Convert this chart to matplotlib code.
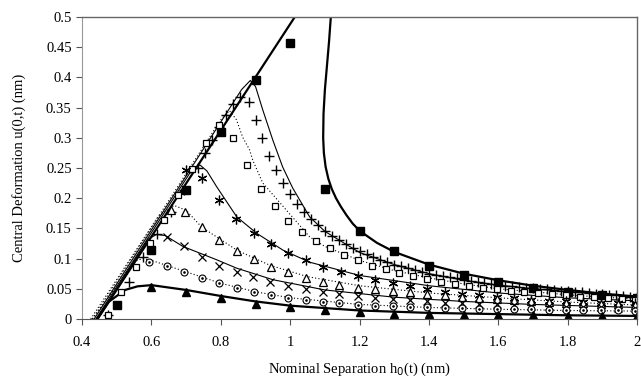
import matplotlib
matplotlib.use("Agg")
import matplotlib.pyplot as plt
from matplotlib.ticker import FuncFormatter

plt.rcParams['font.family'] = ['Liberation Serif', 'DejaVu Serif']

# filled squares + thick curve (two branches)
sq_x = [0.5, 0.6, 0.7, 0.8, 0.9, 1.0, 1.1, 1.2, 1.3, 1.4, 1.5, 1.6, 1.7, 1.8, 1.9, 2.0]
sq_y = [0.023, 0.115, 0.213, 0.31, 0.395, 0.457, 0.215, 0.146, 0.113, 0.088, 0.072,
        0.061, 0.052, 0.045, 0.04, 0.035]
thick_a_x = [0.445, 1.013]
thick_a_y = [0.0, 0.5]
thick_b_x = [1.117, 1.112, 1.106, 1.10, 1.096, 1.095, 1.097, 1.102, 1.11, 1.12, 1.132,
             1.146, 1.162, 1.18, 1.2, 1.25, 1.3, 1.4, 1.5, 1.6, 1.7, 1.8, 1.9, 2.0]
thick_b_y = [0.5, 0.46, 0.42, 0.38, 0.34, 0.30, 0.275, 0.252, 0.232, 0.215, 0.2,
             0.186, 0.172, 0.158, 0.146, 0.126, 0.111, 0.09, 0.075, 0.064, 0.055,
             0.048, 0.042, 0.037]

# '+' markers, thin solid line
plus_x = [0.475, 0.535, 0.575, 0.615, 0.655, 0.695, 0.735, 0.755, 0.775, 0.795, 0.815,
          0.835, 0.855, 0.88, 0.90, 0.92, 0.94, 0.96, 0.98, 1.00, 1.02, 1.04, 1.06, 1.08,
          1.10, 1.12, 1.14, 1.16, 1.18, 1.20, 1.22, 1.24, 1.26, 1.28, 1.30, 1.32, 1.34,
          1.36, 1.38, 1.40, 1.42, 1.44, 1.46, 1.48, 1.50, 1.52, 1.54, 1.56, 1.58, 1.60,
          1.62, 1.64, 1.66, 1.68, 1.70, 1.72, 1.74, 1.76, 1.78, 1.80, 1.82, 1.84, 1.86,
          1.88, 1.90, 1.92, 1.94, 1.96, 1.98, 2.00]
plus_y = [0.007, 0.061, 0.103, 0.14, 0.177, 0.213, 0.25, 0.275, 0.296, 0.318, 0.338,
          0.356, 0.368, 0.36, 0.33, 0.30, 0.27, 0.247, 0.225, 0.207, 0.19, 0.177, 0.165,
          0.155, 0.146, 0.138, 0.13, 0.124, 0.118, 0.112, 0.107, 0.102, 0.098, 0.094,
          0.09, 0.087, 0.084, 0.081, 0.078, 0.075, 0.073, 0.071, 0.069, 0.067, 0.065,
          0.063, 0.061, 0.06, 0.058, 0.057, 0.055, 0.054, 0.053, 0.052, 0.051, 0.05,
          0.049, 0.048, 0.047, 0.046, 0.045, 0.044, 0.043, 0.042, 0.041, 0.04, 0.039,
          0.038, 0.037, 0.036]
plus_line_x = [0.435, 0.86, 0.885, 0.90, 0.921, 0.95, 0.978, 1.007, 1.056, 1.1, 1.2, 1.3,
               1.4, 1.5, 1.6, 1.7, 1.8, 1.9, 2.0]
plus_line_y = [0.0, 0.38, 0.395, 0.385, 0.346, 0.296, 0.252, 0.217, 0.169, 0.145, 0.11,
               0.09, 0.075, 0.064, 0.056, 0.05, 0.045, 0.041, 0.037]

# open squares, dotted line
osq_x = [0.475, 0.512, 0.555, 0.596, 0.636, 0.676, 0.717, 0.757, 0.794, 0.835, 0.875,
         0.915, 0.955, 0.995, 1.035, 1.075, 1.115, 1.155, 1.195, 1.235, 1.275, 1.315,
         1.355, 1.395, 1.435, 1.475, 1.515, 1.555, 1.595, 1.635, 1.675, 1.715, 1.755,
         1.795, 1.835, 1.875, 1.915, 1.955, 1.995]
osq_y = [0.007, 0.045, 0.086, 0.125, 0.164, 0.205, 0.248, 0.291, 0.321, 0.30, 0.255,
         0.215, 0.187, 0.162, 0.144, 0.129, 0.117, 0.106, 0.097, 0.088, 0.082, 0.076,
         0.071, 0.066, 0.062, 0.058, 0.055, 0.052, 0.049, 0.047, 0.045, 0.043, 0.041,
         0.039, 0.037, 0.036, 0.034, 0.033, 0.032]
osq_line_x = [0.43, 0.80, 0.825, 0.845, 0.863, 0.883, 0.892, 0.921, 1.056, 1.1, 1.2, 1.3,
              1.4, 1.5, 1.6, 1.7, 1.8, 1.9, 2.0]
osq_line_y = [0.0, 0.33, 0.345, 0.33, 0.301, 0.28, 0.263, 0.225, 0.136, 0.12, 0.097,
              0.08, 0.068, 0.058, 0.05, 0.045, 0.04, 0.036, 0.033]

# asterisks, thin solid line
ast_x = [0.70, 0.745, 0.795, 0.845, 0.895, 0.945, 0.995, 1.045, 1.095, 1.145, 1.195,
         1.245, 1.295, 1.345, 1.395, 1.445, 1.495, 1.545, 1.595, 1.645, 1.695, 1.745,
         1.795, 1.845, 1.895, 1.945, 1.995]
ast_y = [0.247, 0.233, 0.197, 0.165, 0.142, 0.124, 0.109, 0.098, 0.086, 0.078, 0.071,
         0.065, 0.059, 0.054, 0.049, 0.045, 0.042, 0.039, 0.036, 0.034, 0.032, 0.03,
         0.029, 0.028, 0.027, 0.026, 0.026]
ast_line_x = [0.44, 0.72, 0.74, 0.76, 0.788, 0.846, 0.903, 0.979, 1.056, 1.2, 1.4, 1.6,
              1.8, 2.0]
ast_line_y = [0.0, 0.25, 0.255, 0.245, 0.219, 0.169, 0.142, 0.114, 0.094, 0.072, 0.055,
              0.043, 0.035, 0.03]

# open triangles, dotted line
tri_x = [0.655, 0.696, 0.745, 0.794, 0.846, 0.895, 0.944, 0.993, 1.045, 1.094, 1.142,
         1.194, 1.245, 1.295, 1.345, 1.395, 1.445, 1.495, 1.545, 1.595, 1.645, 1.695,
         1.745, 1.795, 1.845, 1.895, 1.945, 1.995]
tri_y = [0.18, 0.177, 0.153, 0.131, 0.113, 0.099, 0.086, 0.077, 0.068, 0.062, 0.056,
         0.052, 0.049, 0.046, 0.044, 0.041, 0.039, 0.037, 0.035, 0.033, 0.031, 0.03,
         0.028, 0.027, 0.026, 0.025, 0.024, 0.023]
tri_line_x = [0.425, 0.62, 0.665, 0.70, 0.745, 0.846, 0.941, 1.05, 1.2, 1.4, 1.6, 1.8, 2.0]
tri_line_y = [0.0, 0.17, 0.188, 0.18, 0.152, 0.114, 0.089, 0.07, 0.055, 0.043, 0.035,
              0.028, 0.023]

# x markers, thin solid line
xm_x = [0.645, 0.694, 0.745, 0.794, 0.846, 0.893, 0.943, 0.994, 1.045, 1.094, 1.142,
        1.194, 1.245, 1.295, 1.345, 1.395, 1.445, 1.495, 1.545, 1.595, 1.645, 1.695,
        1.745, 1.795, 1.845, 1.895, 1.945, 1.995]
xm_y = [0.135, 0.12, 0.103, 0.088, 0.078, 0.069, 0.062, 0.055, 0.05, 0.045, 0.041, 0.038,
        0.035, 0.033, 0.031, 0.029, 0.027, 0.026, 0.025, 0.024, 0.023, 0.022, 0.021,
        0.02, 0.019, 0.019, 0.018, 0.018]
xm_line_x = [0.445, 0.59, 0.615, 0.64, 0.691, 0.788, 0.846, 0.95, 1.1, 1.3, 1.5, 1.7, 2.0]
xm_line_y = [0.0, 0.132, 0.14, 0.138, 0.12, 0.098, 0.084, 0.065, 0.048, 0.036, 0.029,
             0.024, 0.019]

# dotted circles, dotted line
cir_x = [0.594, 0.645, 0.694, 0.745, 0.794, 0.846, 0.895, 0.944, 0.993, 1.045, 1.094,
         1.142, 1.194, 1.245, 1.295, 1.345, 1.395, 1.445, 1.495, 1.545, 1.595, 1.645,
         1.695, 1.745, 1.795, 1.845, 1.895, 1.945, 1.995]
cir_y = [0.094, 0.087, 0.078, 0.068, 0.06, 0.051, 0.044, 0.04, 0.035, 0.031, 0.028,
         0.026, 0.023, 0.022, 0.021, 0.02, 0.019, 0.018, 0.018, 0.017, 0.017, 0.016,
         0.016, 0.015, 0.015, 0.014, 0.014, 0.014, 0.013]
cir_line_x = [0.43, 0.55, 0.575, 0.6, 0.7, 0.8, 0.9, 1.0, 1.2, 1.4, 1.6, 1.8, 2.0]
cir_line_y = [0.0, 0.095, 0.1, 0.097, 0.078, 0.059, 0.045, 0.035, 0.024, 0.019, 0.016,
              0.014, 0.013]

# filled triangles, thick solid line
ftri_x = [0.6, 0.7, 0.8, 0.9, 1.0, 1.1, 1.2, 1.3, 1.4, 1.5, 1.6, 1.7, 1.8, 1.9, 2.0]
ftri_y = [0.053, 0.045, 0.035, 0.025, 0.02, 0.015, 0.011, 0.009, 0.008, 0.007, 0.006,
          0.006, 0.005, 0.005, 0.005]
ftri_line_x = [0.443, 0.476, 0.524, 0.56, 0.6, 0.7, 0.8, 0.9, 1.0, 1.2, 1.4, 1.6, 1.8, 2.0]
ftri_line_y = [0.0, 0.028, 0.048, 0.054, 0.056, 0.048, 0.038, 0.029, 0.022, 0.014, 0.01,
               0.008, 0.006, 0.005]

fig = plt.figure(figsize=(6.41, 3.88), dpi=100)
ax = fig.add_axes([0.128, 0.178, 0.866, 0.778])

k = 'black'
# curves
ax.plot(thick_a_x, thick_a_y, color=k, lw=1.6)
ax.plot(thick_b_x, thick_b_y, color=k, lw=1.6)
ax.plot(plus_line_x, plus_line_y, color=k, lw=0.8)
ax.plot(osq_line_x, osq_line_y, color=k, lw=0.8, ls=(0, (1, 2)))
ax.plot(ast_line_x, ast_line_y, color=k, lw=0.8)
ax.plot(tri_line_x, tri_line_y, color=k, lw=0.8, ls=(0, (1, 2)))
ax.plot(xm_line_x, xm_line_y, color=k, lw=0.8)
ax.plot(cir_line_x, cir_line_y, color=k, lw=0.8, ls=(0, (1, 2)))
ax.plot(ftri_line_x, ftri_line_y, color=k, lw=1.6)

# markers
ax.plot(sq_x, sq_y, 's', color=k, ms=5.5, ls='none')
ax.plot(plus_x, plus_y, '+', color=k, ms=6.5, mew=1.0, ls='none')
ax.plot(osq_x, osq_y, 's', mfc='white', mec=k, ms=5, mew=0.9, ls='none')
ax.plot(ast_x, ast_y, marker=(6, 2, 0), color=k, ms=7, mew=0.9, ls='none')
ax.plot(tri_x, tri_y, '^', mfc='white', mec=k, ms=5.5, mew=0.9, ls='none')
ax.plot(xm_x, xm_y, 'x', color=k, ms=5.5, mew=0.9, ls='none')
ax.plot(cir_x, cir_y, 'o', mfc='white', mec=k, ms=5, mew=0.8, ls='none')
ax.plot(cir_x, cir_y, '.', color=k, ms=1.8, ls='none')
ax.plot(ftri_x, ftri_y, '^', color=k, ms=5.5, ls='none')

ax.set_xlim(0.4, 2.0)
ax.set_ylim(0, 0.5)
ax.set_xticks([0.4, 0.6, 0.8, 1.0, 1.2, 1.4, 1.6, 1.8, 2.0])
ax.set_yticks([0, 0.05, 0.1, 0.15, 0.2, 0.25, 0.3, 0.35, 0.4, 0.45, 0.5])
fmt = FuncFormatter(lambda v, p: f'{v:g}')
ax.xaxis.set_major_formatter(fmt)
ax.yaxis.set_major_formatter(fmt)
ax.tick_params(direction='out', length=4, width=0.8, labelsize=10.5, color='#555555')
ax.tick_params(axis='x', pad=8)
for s in ['top', 'right']:
    ax.spines[s].set_color('#666666')
    ax.spines[s].set_linewidth(1.0)
ax.spines['left'].set_color('#999999')
ax.spines['bottom'].set_color('#555555')

ax.set_xlabel('Nominal Separation h$_0$(t) (nm)', fontsize=10.5, labelpad=9)
ax.set_ylabel('Central Deformation u(0,t) (nm)', fontsize=10.5, labelpad=14)

fig.savefig('out.png', dpi=100)
